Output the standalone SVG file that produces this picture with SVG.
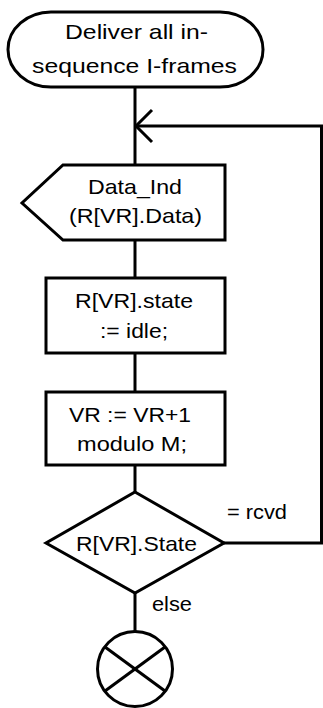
<svg xmlns="http://www.w3.org/2000/svg" width="323" height="708" viewBox="0 0 323 708">
<style>
.s{fill:#fff;stroke:#000;stroke-width:3}
.l{fill:none;stroke:#000;stroke-width:3}
text{font-family:"Liberation Sans",Arial,sans-serif;font-size:21px;fill:#000}
</style>
<rect width="323" height="708" fill="#fff"/>
<g id="connectors">
<line class="l" x1="135" y1="87" x2="135" y2="165"/>
<polyline class="l" points="224,543 321.5,543 321.5,126 135,126"/>
<polyline class="l" points="152,110 136,126 152,142"/>
<line class="l" x1="135" y1="240" x2="135" y2="278"/>
<line class="l" x1="135" y1="353" x2="135" y2="392"/>
<line class="l" x1="135" y1="465" x2="135" y2="492"/>
<line class="l" x1="135" y1="593" x2="135" y2="631"/>
<text x="227" y="519" textLength="60" lengthAdjust="spacingAndGlyphs">= rcvd</text>
<text x="152" y="611" textLength="40" lengthAdjust="spacingAndGlyphs">else</text>
</g>
<g id="start">
<rect class="s" x="8" y="12" width="255" height="75" rx="43" ry="37.5"/>
<text x="65" y="39" textLength="143" lengthAdjust="spacingAndGlyphs">Deliver all in-</text>
<text x="32" y="73" textLength="205" lengthAdjust="spacingAndGlyphs">sequence I-frames</text>
</g>
<g id="data_ind">
<polygon class="s" points="63,165 225,165 225,240 63,240 22,203"/>
<text x="88" y="194" textLength="94" lengthAdjust="spacingAndGlyphs">Data_Ind</text>
<text x="69" y="223" textLength="133" lengthAdjust="spacingAndGlyphs">(R[VR].Data)</text>
</g>
<g id="set_idle">
<rect class="s" x="46" y="278" width="179" height="75"/>
<text x="75" y="308" textLength="118" lengthAdjust="spacingAndGlyphs">R[VR].state</text>
<text x="100" y="338" textLength="68" lengthAdjust="spacingAndGlyphs">:= idle;</text>
</g>
<g id="inc_vr">
<rect class="s" x="46" y="392" width="179" height="73"/>
<text x="69" y="422" textLength="122" lengthAdjust="spacingAndGlyphs">VR := VR+1</text>
<text x="77" y="451" textLength="110" lengthAdjust="spacingAndGlyphs">modulo M;</text>
</g>
<g id="decision">
<polygon class="s" points="135,492 224,543 135,593 46,543"/>
<text x="76" y="551" textLength="121" lengthAdjust="spacingAndGlyphs">R[VR].State</text>
</g>
<g id="stop">
<circle class="s" cx="135" cy="669" r="37.5"/>
<line class="l" x1="105" y1="647" x2="165" y2="691"/>
<line class="l" x1="165" y1="647" x2="105" y2="691"/>
</g>
</svg>
